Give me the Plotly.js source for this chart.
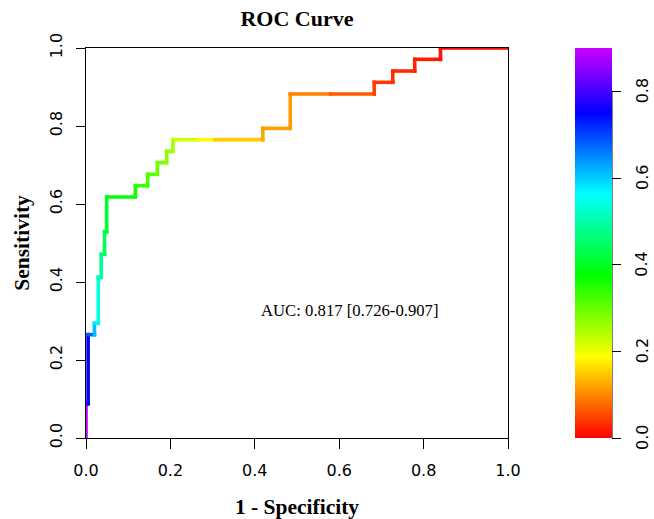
<!DOCTYPE html>
<html>
<head>
<meta charset="utf-8">
<script src="https://cdn.plot.ly/plotly-3.0.1.min.js"></script>
<style>
html,body{margin:0;padding:0;background:#fff;}
.scatterlayer .js-line{stroke-linecap:square !important;}
</style>
</head>
<body>
<div id="chart" style="width:654px;height:519px;"></div>
<script>
// ROC points: false positive rate, true positive rate, cutoff
const fpr = [0, 0, 0.005, 0.005, 0.020, 0.020, 0.029, 0.029, 0.036, 0.036, 0.044, 0.044, 0.049, 0.049,
  0.117, 0.117, 0.146, 0.146, 0.169, 0.169, 0.191, 0.191, 0.206, 0.206, 0.266, 0.306, 0.419, 0.419,
  0.484, 0.484, 0.580, 0.683, 0.683, 0.727, 0.727, 0.779, 0.779, 0.840, 0.840, 1.0];
const tpr = [0, 0.088, 0.088, 0.265, 0.265, 0.294, 0.294, 0.412, 0.412, 0.471, 0.471, 0.529, 0.529, 0.618,
  0.618, 0.647, 0.647, 0.676, 0.676, 0.706, 0.706, 0.735, 0.735, 0.765, 0.765, 0.765, 0.765, 0.794,
  0.794, 0.882, 0.882, 0.882, 0.912, 0.912, 0.941, 0.941, 0.971, 0.971, 1.0, 1.0];
const cutoff = [0.90, 0.88, 0.76, 0.74, 0.62, 0.60, 0.56, 0.52, 0.50, 0.47, 0.45, 0.43, 0.42, 0.40,
  0.37, 0.35, 0.33, 0.32, 0.30, 0.29, 0.28, 0.27, 0.26, 0.25, 0.20, 0.17, 0.13, 0.12,
  0.115, 0.11, 0.08, 0.05, 0.045, 0.04, 0.035, 0.03, 0.025, 0.015, 0.01, 0.0];
const xTicks = [0, 0.2, 0.4, 0.6, 0.8, 1.0];
const yTicks = [0, 0.2, 0.4, 0.6, 0.8, 1.0];
const cbTicks = [0, 0.2, 0.4, 0.6, 0.8];
const aucLabel = "AUC: 0.817 [0.726-0.907]";

const CMAX = 0.9;
function hueOf(v){ return Math.max(0, Math.min(1, v / CMAX)) * 288; }
function colorFor(v){ return 'hsl(' + hueOf(v).toFixed(1) + ',100%,50%)'; }
const colorscale = [];
for (let k = 0; k <= 24; k++) {
  const f = k / 24;
  colorscale.push([f, 'hsl(' + (f * 288).toFixed(1) + ',100%,50%)']);
}

const tickFont = {family: 'DejaVu Sans, sans-serif', size: 16, color: '#000'};
const labFont = {family: 'Liberation Serif, Times New Roman, serif', size: 21.5, color: '#000'};
const CB_LEFT = (575 - 86) / 422, CB_RIGHT = (612 - 86) / 422;

const traces = [];
for (let i = 0; i < fpr.length - 1; i++) {
  traces.push({
    x: [fpr[i], fpr[i + 1]], y: [tpr[i], tpr[i + 1]],
    type: 'scatter', mode: 'lines', cliponaxis: false,
    line: {color: colorFor((cutoff[i] + cutoff[i + 1]) / 2), width: 3.6},
    hoverinfo: 'skip', showlegend: false
  });
}
traces.push({
  x: fpr, y: tpr, type: 'scatter', mode: 'markers', showlegend: false, hoverinfo: 'skip',
  marker: {
    size: 0.1, color: cutoff, cmin: 0, cmax: CMAX, colorscale: colorscale, showscale: true,
    colorbar: {
      thicknessmode: 'pixels', thickness: 37, lenmode: 'pixels', len: 390,
      x: CB_LEFT, xanchor: 'left', xref: 'paper',
      y: 0, yanchor: 'bottom', yref: 'paper', xpad: 0, ypad: 0,
      outlinewidth: 0, ticks: 'outside', ticklen: 9, tickcolor: '#000',
      tickvals: cbTicks, showticklabels: false
    }
  }
});

// colorbar tick labels, placed on the colorbar's own 0..CMAX scale (paper 0..1)
const cbAnnotations = cbTicks.map(v => ({
  text: v.toFixed(1), xref: 'paper', yref: 'paper', x: CB_RIGHT, y: v / CMAX,
  xanchor: 'center', yanchor: 'middle', xshift: 30, textangle: -90, showarrow: false,
  font: tickFont
}));

const layout = {
  width: 654, height: 519,
  margin: {l: 86, r: 146, t: 48, b: 81, pad: 0, autoexpand: false},
  paper_bgcolor: '#fff', plot_bgcolor: '#fff',
  title: {text: '<b>ROC Curve</b>', x: 297 / 654, xanchor: 'center', y: 1 - 18 / 519, yanchor: 'middle',
    font: {family: 'Liberation Serif, Times New Roman, serif', size: 22, color: '#000'}},
  xaxis: {
    range: [0, 1], showgrid: false, zeroline: false, showline: true, mirror: true,
    linecolor: '#000', linewidth: 1, ticks: 'outside', ticklen: 10, tickcolor: '#000',
    tickvals: xTicks, ticktext: xTicks.map(v => v.toFixed(1)),
    tickfont: tickFont, ticklabelstandoff: 8,
    title: {text: '<b>1 - Specificity</b>', standoff: 19, font: labFont}
  },
  yaxis: {
    range: [0, 1], showgrid: false, zeroline: false, showline: true, mirror: true,
    linecolor: '#000', linewidth: 1, ticks: 'outside', ticklen: 9, tickcolor: '#000',
    tickvals: yTicks, ticktext: yTicks.map(v => v.toFixed(1)), tickangle: -90,
    tickfont: tickFont, ticklabelstandoff: 8,
    title: {text: '<b>Sensitivity</b>', standoff: 11, font: labFont}
  },
  shapes: [{
    type: 'line', xref: 'paper', yref: 'paper',
    x0: CB_RIGHT, x1: CB_RIGHT, y0: 0, y1: cbTicks[cbTicks.length - 1] / CMAX,
    line: {color: '#000', width: 1}
  }],
  annotations: [{
    text: aucLabel, x: 0.626, y: 0.328, xref: 'x', yref: 'y', showarrow: false,
    font: {family: 'Liberation Serif, Times New Roman, serif', size: 16.7, color: '#000'}
  }].concat(cbAnnotations)
};

Plotly.newPlot('chart', traces, layout, {displayModeBar: false, staticPlot: true});
</script>
</body>
</html>
